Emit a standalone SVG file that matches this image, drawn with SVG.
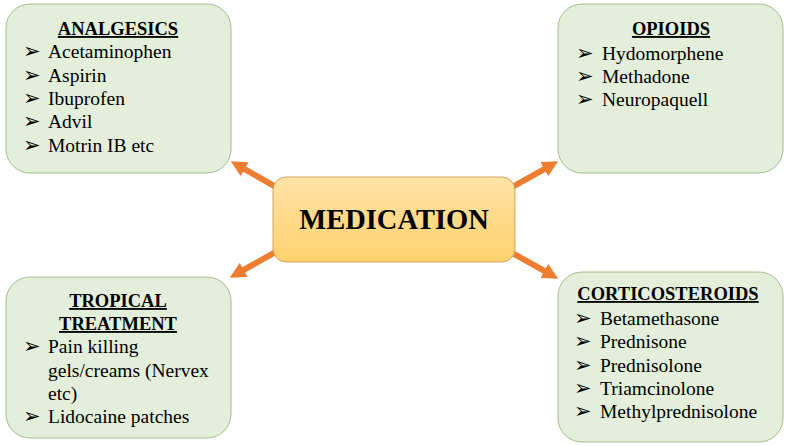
<svg xmlns="http://www.w3.org/2000/svg" width="788" height="446" viewBox="0 0 788 446">
<defs>
<linearGradient id="gold" x1="0" y1="0" x2="0" y2="1">
<stop offset="0" stop-color="#FFE3A6"/>
<stop offset="1" stop-color="#FFD06E"/>
</linearGradient>
<marker id="ah" markerUnits="userSpaceOnUse" markerWidth="16" markerHeight="16" viewBox="0 0 14 14" refX="4" refY="7" orient="auto">
<path d="M0,0 L14,7 L0,14 z" fill="#ED7D31"/>
</marker>
<style>
.box{fill:#E3EFDA;stroke:#A3BE8C;stroke-width:1}
.hd{font-weight:bold;font-size:18.5px;fill:#000;text-decoration:underline}
.it{font-size:19.5px;fill:#000}
.bl{font-size:21px;fill:#000}
.arr{stroke:#ED7D31;stroke-width:6;fill:none;marker-end:url(#ah)}
</style>
</defs>
<rect width="788" height="446" fill="#FFFFFF"/>
<g id="connectors">
<line class="arr" x1="290" y1="195" x2="240.7" y2="166.9"/>
<line class="arr" x1="498" y1="195" x2="548.3" y2="166.9"/>
<line class="arr" x1="290" y1="244" x2="239.7" y2="272.1"/>
<line class="arr" x1="498" y1="245" x2="548.3" y2="273.1"/>
</g>
<g id="medication">
<rect x="273" y="177" width="242" height="85" rx="13" fill="url(#gold)" stroke="#CDA55C" stroke-width="1"/>
<text x="394" y="229" text-anchor="middle" font-family="Liberation Serif, serif" font-weight="bold" font-size="28.5">MEDICATION</text>
</g>
<g id="analgesics">
<rect class="box" x="6" y="4" width="225" height="169" rx="24"/>
<g font-family="Liberation Serif, serif">
<text class="hd" x="118" y="35" text-anchor="middle">ANALGESICS</text>
<text class="it" x="48" y="58">Acetaminophen</text>
<text class="it" x="48" y="82">Aspirin</text>
<text class="it" x="48" y="105">Ibuprofen</text>
<text class="it" x="48" y="128">Advil</text>
<text class="it" x="48" y="152">Motrin IB etc</text>
</g>
<g font-family="DejaVu Sans, sans-serif">
<text class="bl" x="23" y="58">➢</text>
<text class="bl" x="23" y="82">➢</text>
<text class="bl" x="23" y="105">➢</text>
<text class="bl" x="23" y="128">➢</text>
<text class="bl" x="23" y="152">➢</text>
</g>
</g>
<g id="opioids">
<rect class="box" x="558" y="4" width="225" height="169" rx="24"/>
<g font-family="Liberation Serif, serif">
<text class="hd" x="671" y="35" text-anchor="middle">OPIOIDS</text>
<text class="it" x="602" y="60">Hydomorphene</text>
<text class="it" x="602" y="83">Methadone</text>
<text class="it" x="602" y="106">Neuropaquell</text>
</g>
<g font-family="DejaVu Sans, sans-serif">
<text class="bl" x="576" y="60">➢</text>
<text class="bl" x="576" y="83">➢</text>
<text class="bl" x="576" y="106">➢</text>
</g>
</g>
<g id="tropical">
<rect class="box" x="6" y="277" width="225" height="161" rx="24"/>
<g font-family="Liberation Serif, serif">
<text class="hd" x="118" y="307" text-anchor="middle">TROPICAL</text>
<text class="hd" x="118" y="330" text-anchor="middle">TREATMENT</text>
<text class="it" x="48" y="353">Pain killing</text>
<text class="it" x="48" y="377">gels/creams (Nervex</text>
<text class="it" x="48" y="400">etc)</text>
<text class="it" x="48" y="423">Lidocaine patches</text>
</g>
<g font-family="DejaVu Sans, sans-serif">
<text class="bl" x="23" y="353">➢</text>
<text class="bl" x="23" y="423">➢</text>
</g>
</g>
<g id="corticosteroids">
<rect class="box" x="558" y="272" width="225" height="170" rx="24"/>
<g font-family="Liberation Serif, serif">
<text class="hd" x="668" y="300" text-anchor="middle">CORTICOSTEROID<tspan style="text-decoration:none">S</tspan></text>
<text class="it" x="600" y="325">Betamethasone</text>
<text class="it" x="600" y="348">Prednisone</text>
<text class="it" x="600" y="372">Prednisolone</text>
<text class="it" x="600" y="395">Triamcinolone</text>
<text class="it" x="600" y="418">Methylprednisolone</text>
</g>
<g font-family="DejaVu Sans, sans-serif">
<text class="bl" x="574" y="325">➢</text>
<text class="bl" x="574" y="348">➢</text>
<text class="bl" x="574" y="372">➢</text>
<text class="bl" x="574" y="395">➢</text>
<text class="bl" x="574" y="418">➢</text>
</g>
</g>
</svg>
